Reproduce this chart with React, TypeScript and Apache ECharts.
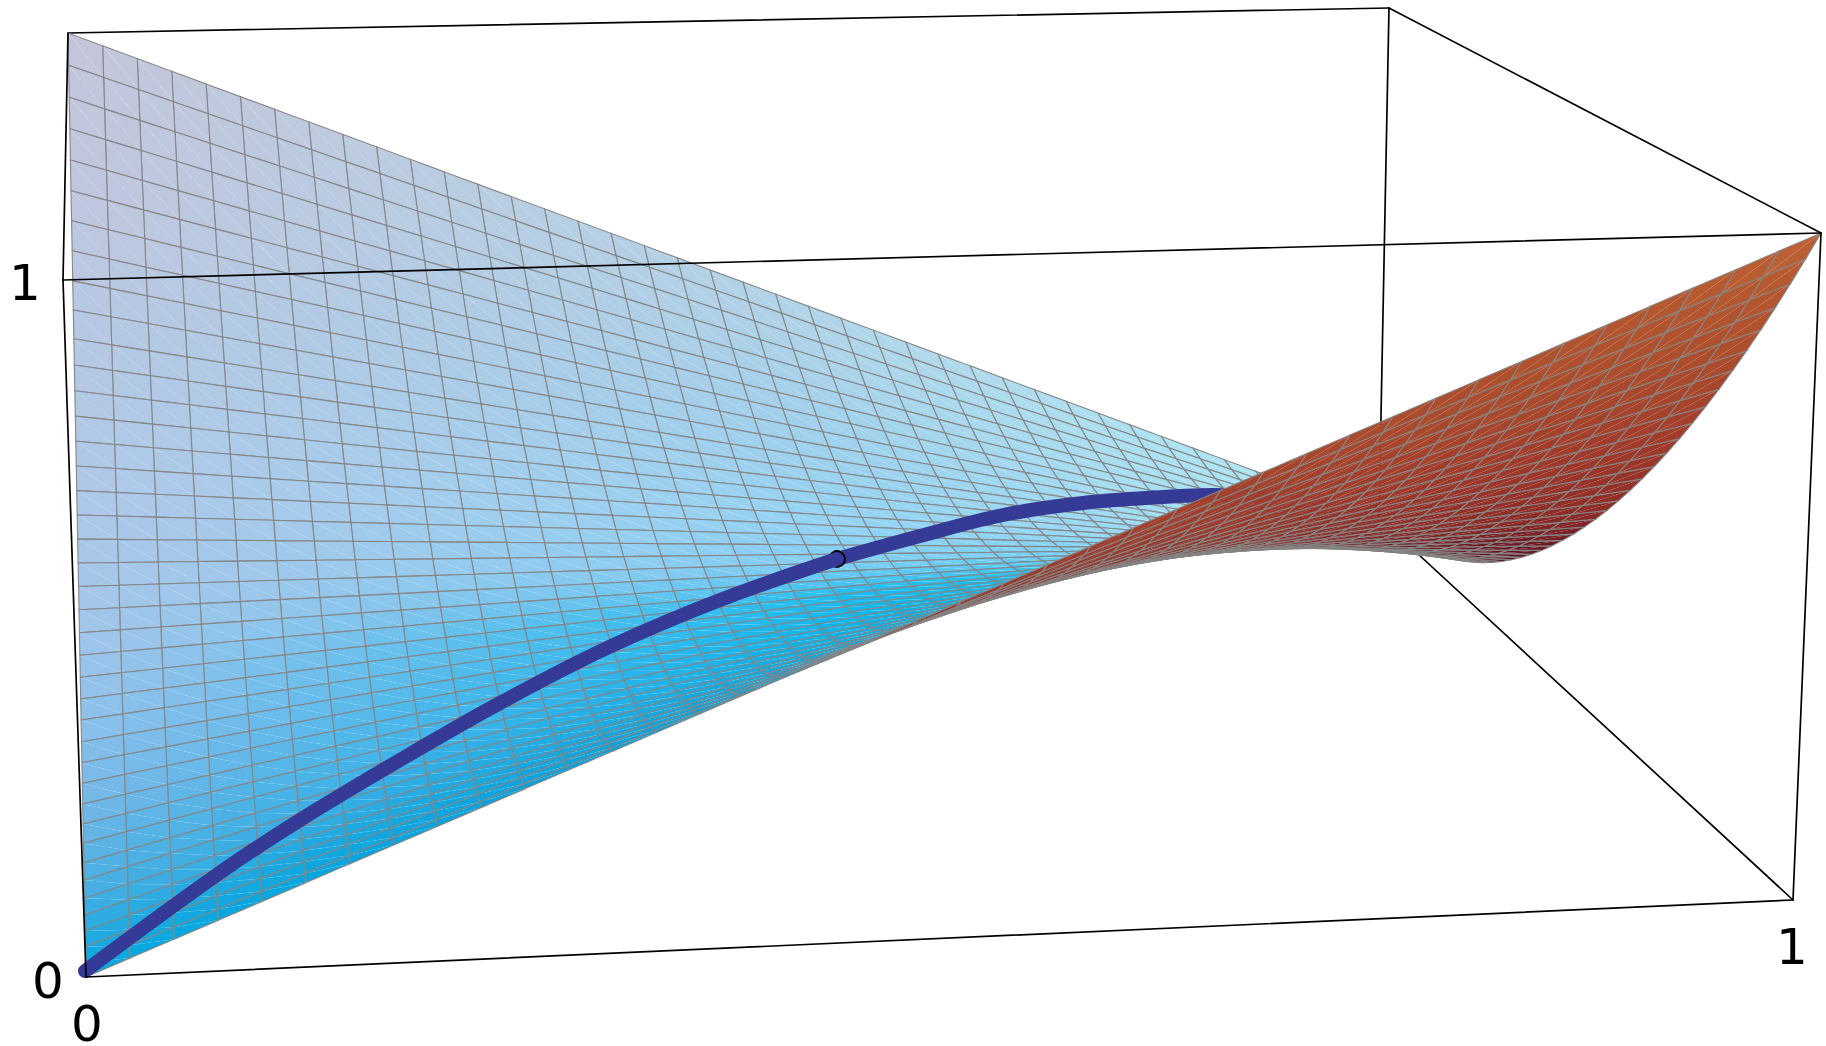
import React, { useEffect, useRef } from "react";
import * as echarts from "echarts";

// mesh columns along the x direction
const uNodes = [0,.025,.05,.075,.1,.125,.15,.175,.2,.225,.25,.275,.3,.325,.35,.375,.4,.425,.45,.475,.5,.525,.55,.575,.6,.625,.65,.675,.7,.725,.75,.775,.8,.825,.85,.875,.9,.925,.95,.975,1];
// where each mesh row meets the x=0 edge (there z equals y)
const leftEdgeY = [0,.0112,.0248,.0378,.0512,.0652,.0808,.0956,.1124,.1292,.1469,.1653,.1839,.203,.223,.2427,.2631,.2841,.3058,.3282,.3512,.3748,.399,.4238,.4492,.4752,.5018,.529,.557,.5858,.6156,.6488,.683,.719,.7555,.7927,.8315,.8718,.913,.9559,1];
// where each mesh row meets the x=1 edge
const rightEdgeY = [0,.025,.05,.075,.1,.125,.15,.175,.2,.225,.25,.275,.3,.325,.35,.375,.4,.425,.45,.475,.5,.525,.55,.575,.6,.625,.65,.675,.7,.725,.75,.775,.8,.825,.85,.875,.9,.925,.95,.975,1];
const rightEdgeZ = [1,.9506,.9025,.8556,.81,.7656,.7225,.6806,.64,.6006,.5625,.5256,.49,.4556,.4225,.3906,.36,.3306,.3025,.2756,.25,.2256,.2025,.1806,.16,.1406,.1225,.1056,.09,.0756,.0625,.0506,.04,.0306,.0225,.0156,.01,.0056,.0025,.0006,0];
// the thick curve, in the picture's plane
const curveX = [85,218,300,400,500,607,720,837,920,1003,1083,1163,1213,1270];
const curveY = [971,874,820,760,703,648,600,559,536,515,503,497,495,497];
const curveMidIndex = 7;
// tick labels
const zTickLabels = ["0", "1"];
const xTickLabels = ["0", "1"];
const yTickLabels = ["0"];
// box corners as seen in the picture
const cornerA = [86, 977], cornerE = [1793, 900], cornerC = [1821, 233], cornerF = [63, 280], cornerB = [68, 33], cornerG = [1389, 8], cornerD = [1379, 518];

const cam = { ox: 86, oy: 977, xx: 1791.4, xy: -34.6, yx: 27.5, yy: -228.7, zx: -24.9, zy: -705.3, a: 0.0471, b: 0.333, c: -0.0298 };
function project(x: number, y: number, z: number) {
  const w = 1 + cam.a * x + cam.b * y + cam.c * z;
  return [(cam.ox + cam.xx * x + cam.yx * y + cam.zx * z) / w, (cam.oy + cam.xy * x + cam.yy * y + cam.zy * z) / w, w];
}
function raw(i: number, j: number) {
  const u = uNodes[i];
  return [u, (1 - u) * leftEdgeY[j] + u * rightEdgeY[j], (1 - u) * leftEdgeY[j] + u * rightEdgeZ[j]];
}
function node(i: number, j: number) {
  const r = raw(i, j);
  return project(r[0], r[1], r[2]);
}

type Stop = [number, number[]];
const hex = (s: string) => [parseInt(s.slice(1, 3), 16), parseInt(s.slice(3, 5), 16), parseInt(s.slice(5, 7), 16)];
const ramp = (stops: [number, string][]): Stop[] => stops.map(([t, c]) => [t, hex(c)]);
const blueA = ramp([[0, "#06A8E0"], [.05, "#1BAAE1"], [.125, "#45AEE2"], [.25, "#74B8E8"], [.35, "#8FC0EB"], [.45, "#A2C5EA"], [.6, "#AFC8E8"], [.75, "#B6C8E3"], [.85, "#BEC7DF"], [1, "#C4C6DA"]]);
const blueB = ramp([[0, "#0A9AD6"], [.1, "#00A5E0"], [.2, "#00AFE9"], [.3, "#05B6EE"], [.4, "#1CBCF0"], [.45, "#55C6F2"], [.5, "#80CEF3"], [.6, "#93D3F4"], [.8, "#A0D0EC"], [1, "#B3D2E6"]]);
const blueC = ramp([[0, "#0AA5DE"], [.25, "#00BBF3"], [.35, "#10C0F6"], [.45, "#3CCAF8"], [.6, "#92D9F6"], [.8, "#A3E0F3"], [1, "#ACE3F2"]]);
const redRamp = ramp([[0, "#4F0820"], [.12, "#5A0D20"], [.25, "#701B22"], [.35, "#8B2A26"], [.56, "#A03A2A"], [.75, "#AB4C2D"], [.9, "#B5582F"], [1, "#BE6236"]]);
function sample(r: Stop[], t: number) {
  for (let k = 1; k < r.length; k++) {
    if (t <= r[k][0]) {
      const f = (t - r[k - 1][0]) / (r[k][0] - r[k - 1][0]);
      return r[k - 1][1].map((c, n) => c + (r[k][1][n] - c) * f);
    }
  }
  return r[r.length - 1][1];
}
const css = (c: number[]) => `rgb(${c.map((v) => Math.round(v)).join(",")})`;
function blueColor(u: number, v: number) {
  const a = sample(blueA, v), b = sample(blueB, v), c = sample(blueC, v);
  if (u < 0.5) return css(a.map((x, n) => x + (b[n] - x) * (u / 0.5)));
  const m = Math.min(1, (u - 0.5) / 0.35);
  return css(b.map((x, n) => x + (c[n] - x) * m));
}

// split the mesh cells into the side seen from above and the side seen from below
const nCols = uNodes.length - 1, nRows = leftEdgeY.length - 1;
const topCells: number[][] = [], underCells: number[][] = [];
for (let i = 0; i < nCols; i++) {
  for (let j = 0; j < nRows; j++) {
    const a = node(i, j), b = node(i + 1, j), c = node(i + 1, j + 1), d = node(i, j + 1);
    const area = (c[0] - a[0]) * (d[1] - b[1]) - (c[1] - a[1]) * (d[0] - b[0]);
    const depth = (a[2] + b[2] + c[2] + d[2]) / 4;
    (area < 0 ? topCells : underCells).push([i, j, depth]);
  }
}
topCells.sort((p, q) => q[2] - p[2]);
underCells.sort((p, q) => q[2] - p[2]);

const meshStyle = { stroke: "#868686", lineWidth: 1.1, fill: "none" };

function makeCell(under: boolean) {
  return (_: any, api: any) => {
    const i = api.value(0), j = api.value(1);
    const P = [node(i, j), node(i + 1, j), node(i + 1, j + 1), node(i, j + 1)].map((p) => api.coord([p[0], p[1]]));
    const col = (ii: number[], jj: number[]) => {
      const um = (uNodes[ii[0]] + uNodes[ii[1]] + uNodes[ii[2]]) / 3;
      const vm = (jj[0] + jj[1] + jj[2]) / 3 / nRows;
      if (under) {
        const z = (raw(ii[0], jj[0])[2] + raw(ii[1], jj[1])[2] + raw(ii[2], jj[2])[2]) / 3;
        return css(sample(redRamp, z));
      }
      return blueColor(um, vm);
    };
    return {
      type: "group",
      children: [
        { type: "polygon", shape: { points: [P[0], P[1], P[3]] }, style: { fill: col([i, i + 1, i], [j, j, j + 1]) } },
        { type: "polygon", shape: { points: [P[1], P[2], P[3]] }, style: { fill: col([i + 1, i + 1, i], [j, j + 1, j + 1]) } },
        { type: "polygon", shape: { points: P }, style: meshStyle },
      ],
    };
  };
}

const backEdges = [[cornerB, cornerG], [cornerG, cornerC], [cornerG, cornerD], [cornerD, cornerE]];
const frontEdges = [[cornerB, cornerF], [cornerF, cornerC], [cornerF, cornerA], [cornerA, cornerE], [cornerE, cornerC]];
function edgeRender(edges: number[][][]) {
  return (_: any, api: any) => ({
    type: "group",
    children: edges.map((e) => {
      const a = api.coord(e[0]), b = api.coord(e[1]);
      return { type: "line", shape: { x1: a[0], y1: a[1], x2: b[0], y2: b[1] }, style: { stroke: "#000", lineWidth: 1.7, lineCap: "round" } };
    }),
  });
}

const curveColor = "#353A96";
function renderCurve(_: any, api: any) {
  const pts = curveX.map((x, k) => api.coord([x, curveY[k]]));
  const mid = pts[curveMidIndex];
  const stroke = { stroke: curveColor, lineWidth: 14, fill: "none", lineCap: "round", lineJoin: "round" };
  return {
    type: "group",
    children: [
      { type: "polyline", shape: { points: pts.slice(curveMidIndex), smooth: 0.35 }, style: stroke },
      { type: "circle", shape: { cx: mid[0], cy: mid[1], r: 7.5 }, style: { fill: curveColor, stroke: "#000", lineWidth: 2.6 } },
      { type: "polyline", shape: { points: pts.slice(0, curveMidIndex + 1), smooth: 0.35 }, style: stroke },
    ],
  };
}

export default function App() {
  const ref = useRef<HTMLDivElement>(null);
  useEffect(() => {
    const chart = echarts.init(ref.current!, undefined, { renderer: "svg" });
    const textStyle = { fontFamily: "DejaVu Sans", fontSize: 50, lineHeight: 40, fill: "#000", textAlign: "center", textVerticalAlign: "middle" };
    const common = { type: "custom", coordinateSystem: "cartesian2d", silent: true, clip: false, progressive: 0 };
    chart.setOption({
      animation: false,
      backgroundColor: "#fff",
      grid: { left: 0, right: 0, top: 0, bottom: 0 },
      xAxis: { type: "value", min: 0, max: 1826, show: false },
      yAxis: { type: "value", min: 0, max: 1046, inverse: true, show: false },
      series: [
        { ...common, z: 1, data: [[0]], renderItem: edgeRender(backEdges) },
        { ...common, z: 2, data: topCells, renderItem: makeCell(false) },
        { ...common, z: 3, data: [[0]], renderItem: renderCurve },
        { ...common, z: 4, data: underCells, renderItem: makeCell(true) },
        { ...common, z: 5, data: [[0]], renderItem: edgeRender(frontEdges) },
      ],
      graphic: [
        { type: "text", x: 25, y: 283, z: 10, style: { ...textStyle, text: zTickLabels[1] } },
        { type: "text", x: 48, y: 981, z: 10, style: { ...textStyle, text: zTickLabels[0] } },
        { type: "text", x: 87, y: 1024, z: 10, style: { ...textStyle, text: yTickLabels[0] } },
        { type: "text", x: 1792, y: 947, z: 10, style: { ...textStyle, text: xTickLabels[1] } },
      ],
    });
    return () => chart.dispose();
  }, []);
  return <div ref={ref} style={{ position: "fixed", left: 0, top: 0, width: 1826, height: 1046 }} />;
}
